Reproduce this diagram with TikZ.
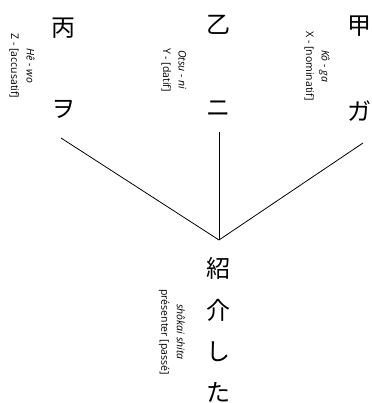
\documentclass[tikz,border=0pt]{standalone}
\usepackage{fontspec}
\setmainfont{Open Sans}
\newfontfamily\cjk{Noto Sans CJK JP}
\begin{document}
\begin{tikzpicture}[x=1pt,y=-1pt,
  kanji/.style={font=\cjk\fontsize{24}{24}\selectfont, inner sep=0pt},
  gloss/.style={rotate=-90, font=\fontsize{10.5}{15.5}\selectfont, inner sep=0pt, align=center},
  link/.style={line width=0.8pt, black}]
\useasboundingbox (0,0) rectangle (371,403);
% left column
\node[kanji] (hei) at (63,28) {丙};
\node[kanji] (wo) at (63,109) {ヲ};
\node[gloss] (glwo) at (22,66) {\textit{Hê - wo}\\Z - [accusatif]};
% middle column
\node[kanji] (otsu) at (218,25) {乙};
\node[kanji] (ni) at (218,109) {ニ};
\node[gloss] (glni) at (174,70) {\textit{Otsu - ni}\\Y - [datif]};
% right column
\node[kanji] (ko) at (359,26) {甲};
\node[kanji] (ga) at (359,111) {ガ};
\node[gloss] (glga) at (317,66) {\textit{Kô - ga}\\X - [nominatif]};
% verb
\node[kanji] (sho) at (218,268) {紹};
\node[kanji] (kai) at (218,310) {介};
\node[kanji] (shi) at (218,352) {し};
\node[kanji] (ta) at (218,392) {た};
\node[gloss] (glverb) at (172,332) {\textit{shôkai shita}\\présenter [passé]};
% connectors
\coordinate (a) at (61,138);
\coordinate (b) at (219,132);
\coordinate (c) at (363,143);
\coordinate (j) at (219,240);
\draw[link] (a) -- (j);
\draw[link] (b) -- (j);
\draw[link] (c) -- (j);
\end{tikzpicture}
\end{document}
